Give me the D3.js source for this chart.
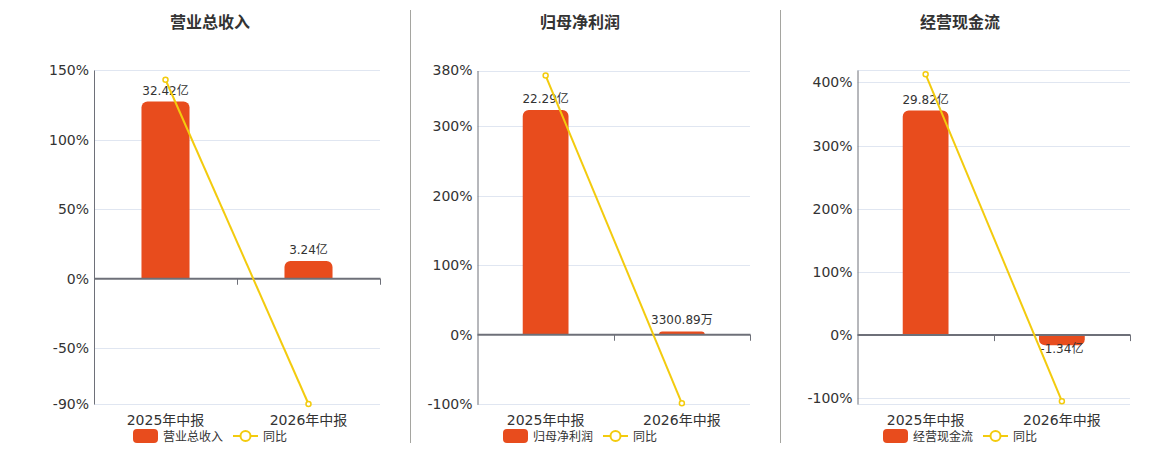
<!DOCTYPE html>
<html>
<head>
<meta charset="utf-8">
<script src="https://cdn.jsdelivr.net/npm/d3@7"></script>
<style>
  body { margin: 0; background: #fff; }
  svg { display: block; font-family: "DejaVu Sans", "Noto Sans CJK SC", sans-serif; }
</style>
</head>
<body>
<div id="graph"></div>
<script>
// Chart data
const categories = ['2025年中报', '2026年中报']
const titles = ['营业总收入', '归母净利润', '经营现金流']
const barNames = ['营业总收入', '归母净利润', '经营现金流']
const lineName = '同比'

// bar values in 亿
const revenue = [32.42, 3.24]
const revenueLabels = ['32.42亿', '3.24亿']
const profit = [22.29, 0.3301]
const profitLabels = ['22.29亿', '3300.89万']
const cashflow = [29.82, -1.34]
const cashflowLabels = ['29.82亿', '-1.34亿']

// year-on-year in %
const revenueYoy = [143.0, -90.01]
const profitYoy = [372.7, -98.52]
const cashflowYoy = [412.7, -104.49]

// percent axis ticks and extents
const revenueTicks = [150, 100, 50, 0, -50, -90]
const profitTicks = [380, 300, 200, 100, 0, -100]
const cashflowTicks = [400, 300, 200, 100, 0, -100]
const revenueDomain = [-90, 150]
const profitDomain = [-100, 380]
const cashflowDomain = [-109, 419.5]
// hidden bar axis max (亿), bottom is aligned so that zero matches 0%
const barMaxes = [38.2, 26.2, 35.2]

const barColor = '#E84C1D'
const lineColor = '#F3CB0E'
const gridColor = '#E0E6F1'
const axisColor = '#6E7079'

const panels = [
  { title: titles[0], bars: revenue, labels: revenueLabels, yoy: revenueYoy, ticks: revenueTicks, domain: revenueDomain, barMax: barMaxes[0], name: barNames[0],
    cx: 210, left: 94, right: 380, top: 70, bottom: 404 },
  { title: titles[1], bars: profit, labels: profitLabels, yoy: profitYoy, ticks: profitTicks, domain: profitDomain, barMax: barMaxes[1], name: barNames[1],
    cx: 580, left: 477.5, right: 750, top: 70.5, bottom: 404.3 },
  { title: titles[2], bars: cashflow, labels: cashflowLabels, yoy: cashflowYoy, ticks: cashflowTicks, domain: cashflowDomain, barMax: barMaxes[2], name: barNames[2],
    cx: 960, left: 857.5, right: 1130, top: 70, bottom: 404 }
]

svg = d3.select('#graph').append('svg')
  .attr('width', 1160)
  .attr('height', 450)

// dividers between the panels
;[410.5, 780.5].forEach(xd => {
  svg.append('line')
    .attr('x1', xd).attr('x2', xd)
    .attr('y1', 10).attr('y2', 443)
    .attr('stroke', '#A5A5A0')
    .attr('stroke-width', 1)
})

function barPath(x0, w, yBase, yEnd, r) {
  // rounded on the end away from zero
  let h = Math.abs(yEnd - yBase)
  r = Math.min(r, h, w / 2)
  if (yEnd <= yBase) {
    return `M${x0},${yBase} V${yEnd + r} A${r},${r} 0 0 1 ${x0 + r},${yEnd} H${x0 + w - r} A${r},${r} 0 0 1 ${x0 + w},${yEnd + r} V${yBase} Z`
  } else {
    return `M${x0},${yBase} V${yEnd - r} A${r},${r} 0 0 0 ${x0 + r},${yEnd} H${x0 + w - r} A${r},${r} 0 0 0 ${x0 + w},${yEnd - r} V${yBase} Z`
  }
}

function drawPanel(p) {
  let g = svg.append('g')

  let y = d3.scaleLinear().domain(p.domain).range([p.bottom, p.top])
  let yBar = d3.scaleLinear()
    .domain([p.barMax * p.domain[0] / p.domain[1], p.barMax])
    .range([p.bottom, p.top])
  let x = d3.scaleBand().domain(categories).range([p.left, p.right])
  let zero = y(0)

  // title
  g.append('text')
    .attr('x', p.cx).attr('y', 28)
    .attr('text-anchor', 'middle')
    .attr('font-size', 16).attr('font-weight', 'bold')
    .attr('fill', '#333')
    .text(p.title)

  // gridlines (ticks + both ends)
  let grid = p.ticks.concat(p.domain).filter(v => v !== 0)
  g.selectAll('.grid').data(grid).enter().append('line')
    .attr('x1', p.left).attr('x2', p.right)
    .attr('y1', d => Math.round(y(d)) + 0.5)
    .attr('y2', d => Math.round(y(d)) + 0.5)
    .attr('stroke', gridColor)

  // y axis
  let yAxis = g.append('g')
    .attr('transform', `translate(${p.left}, 0)`)
    .call(d3.axisLeft(y).tickValues(p.ticks).tickSize(0).tickPadding(5).tickFormat(d => d + '%'))
  yAxis.select('.domain').attr('stroke', axisColor)
  yAxis.selectAll('text')
    .attr('font-size', 14)
    .attr('fill', '#333')
    .attr('font-family', '"DejaVu Sans", "Noto Sans CJK SC", sans-serif')

  // bars
  let bw = x.bandwidth() * 0.336
  g.selectAll('.bar').data(p.bars).enter().append('path')
    .attr('d', (d, i) => barPath(x(categories[i]) + (x.bandwidth() - bw) / 2, bw, zero, yBar(d), 6))
    .attr('fill', barColor)

  // bar labels
  g.selectAll('.blabel').data(p.bars).enter().append('text')
    .attr('x', (d, i) => x(categories[i]) + x.bandwidth() / 2)
    .attr('y', d => d >= 0 ? yBar(d) - 7 : yBar(d) + 8)
    .attr('text-anchor', 'middle')
    .attr('font-size', 12)
    .attr('fill', '#333')
    .text((d, i) => p.labels[i])

  // x axis at zero
  g.append('line')
    .attr('x1', p.left).attr('x2', p.right + 0.5)
    .attr('y1', zero).attr('y2', zero)
    .attr('stroke', axisColor).attr('stroke-width', 2)
  let tickXs = [p.left + x.bandwidth(), p.right]
  g.selectAll('.xtick').data(tickXs).enter().append('line')
    .attr('x1', d => Math.round(d) + 0.5).attr('x2', d => Math.round(d) + 0.5)
    .attr('y1', zero).attr('y2', zero + 6)
    .attr('stroke', axisColor)

  // category labels
  g.selectAll('.xlabel').data(categories).enter().append('text')
    .attr('x', d => x(d) + x.bandwidth() / 2)
    .attr('y', 425)
    .attr('text-anchor', 'middle')
    .attr('font-size', 14)
    .attr('fill', '#333')
    .text(d => d)

  // yoy line
  g.append('path')
    .datum(p.yoy)
    .attr('fill', 'none')
    .attr('stroke', lineColor)
    .attr('stroke-width', 2)
    .attr('d', d3.line()
      .x((d, i) => x(categories[i]) + x.bandwidth() / 2)
      .y(d => y(d)))
  g.selectAll('.dot').data(p.yoy).enter().append('circle')
    .attr('cx', (d, i) => x(categories[i]) + x.bandwidth() / 2)
    .attr('cy', d => y(d))
    .attr('r', 2.5)
    .attr('fill', '#fff')
    .attr('stroke', lineColor)
    .attr('stroke-width', 1.5)

  // legend
  let l0 = p.cx - 77
  g.append('rect')
    .attr('x', l0).attr('y', 429)
    .attr('width', 25).attr('height', 14)
    .attr('rx', 4)
    .attr('fill', barColor)
  g.append('text')
    .attr('x', l0 + 30).attr('y', 440.5)
    .attr('font-size', 12).attr('fill', '#333')
    .text(p.name)
  let l1 = l0 + 100
  g.append('line')
    .attr('x1', l1).attr('x2', l1 + 25)
    .attr('y1', 436).attr('y2', 436)
    .attr('stroke', lineColor).attr('stroke-width', 2)
  g.append('circle')
    .attr('cx', l1 + 12.5).attr('cy', 436)
    .attr('r', 5)
    .attr('fill', '#fff')
    .attr('stroke', lineColor).attr('stroke-width', 2)
  g.append('text')
    .attr('x', l1 + 30).attr('y', 440.5)
    .attr('font-size', 12).attr('fill', '#333')
    .text(lineName)
}

panels.forEach(drawPanel)
</script>
</body>
</html>
